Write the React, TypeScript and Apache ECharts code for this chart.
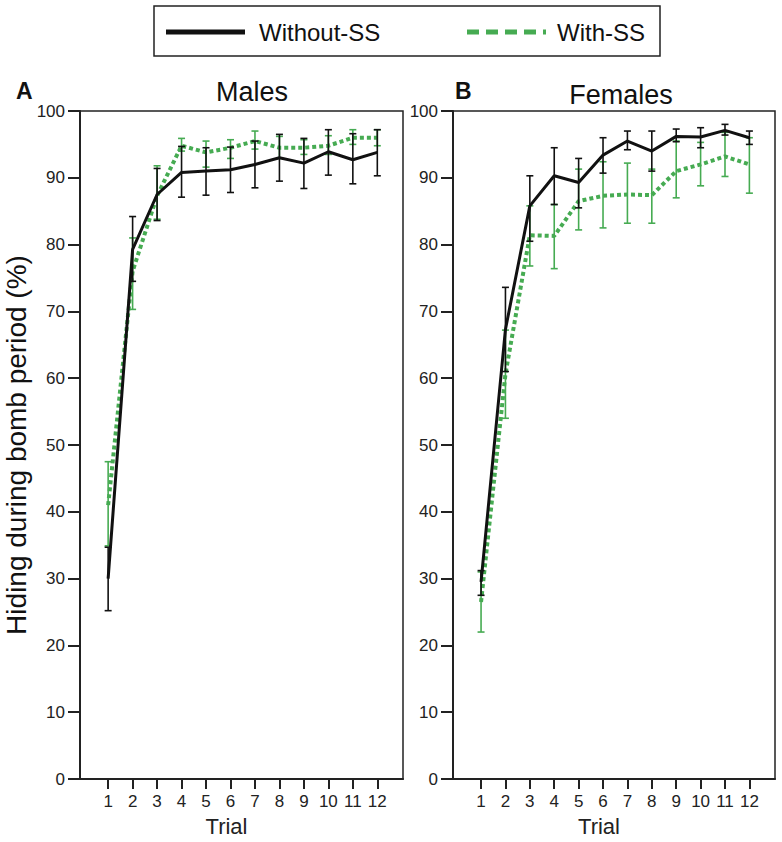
import React, { useEffect, useRef } from "react";
import * as echarts from "echarts";

const trials = [1, 2, 3, 4, 5, 6, 7, 8, 9, 10, 11, 12];
const tickValues = [1, 2, 3, 4, 5, 6, 7, 8, 9, 10, 11, 12];

// Males
const malesWithoutMean = [30.0, 79.3, 87.5, 90.8, 91.0, 91.2, 92.0, 93.0, 92.2, 93.9, 92.7, 93.8];
const malesWithoutLow = [25.2, 74.5, 83.6, 87.1, 87.4, 87.8, 88.5, 89.5, 88.4, 90.4, 89.1, 90.3];
const malesWithoutHigh = [34.7, 84.2, 91.4, 94.7, 94.5, 94.6, 95.5, 96.5, 95.9, 97.2, 96.6, 97.2];
const malesWithMean = [41.0, 76.0, 87.3, 94.8, 93.8, 94.5, 95.5, 94.5, 94.5, 94.8, 96.0, 96.0];
const malesWithLow = [34.9, 70.3, 83.8, 94.0, 91.6, 92.9, 94.3, 92.9, 93.5, 93.5, 95.0, 94.8];
const malesWithHigh = [47.5, 81.0, 91.8, 95.9, 95.5, 95.7, 97.0, 96.2, 95.7, 96.3, 97.2, 97.2];

// Females
const femalesWithoutMean = [29.5, 67.3, 85.8, 90.3, 89.3, 93.4, 95.5, 94.0, 96.2, 96.1, 97.1, 96.0];
const femalesWithoutLow = [27.5, 61.0, 80.5, 86.0, 85.5, 90.7, 94.2, 91.0, 95.4, 94.5, 96.4, 95.0];
const femalesWithoutHigh = [31.2, 73.6, 90.3, 94.5, 92.9, 96.0, 97.0, 97.0, 97.3, 97.5, 98.0, 97.0];
const femalesWithMean = [26.5, 60.6, 81.4, 81.3, 86.5, 87.3, 87.5, 87.4, 91.0, 92.0, 93.2, 92.0];
const femalesWithLow = [22.0, 54.0, 76.8, 76.4, 82.2, 82.5, 83.2, 83.2, 87.0, 88.8, 90.2, 87.7];
const femalesWithHigh = [31.0, 67.2, 85.8, 86.0, 91.3, 92.4, 92.2, 91.3, 95.5, 95.3, 96.8, 96.0];

const panelTitles = ["Males", "Females"];
const panelLetters = ["A", "B"];
const legendNames = ["Without-SS", "With-SS"];
const yAxisName = "Hiding during bomb period (%)";
const xAxisName = "Trial";

const BLACK = "#111111";
const GREEN = "#46ab52";
const FONT = "Liberation Sans, Arial, sans-serif";

function errSeries(idx: number, low: number[], high: number[], color: string, z: number) {
  return {
    type: "custom",
    xAxisIndex: idx,
    yAxisIndex: idx,
    z,
    silent: true,
    data: trials.map((t, i) => [t, low[i], high[i]]),
    encode: { x: 0, y: [1, 2] },
    renderItem: (params: any, api: any) => {
      const x = api.value(0);
      const pLo = api.coord([x, api.value(1)]);
      const pHi = api.coord([x, api.value(2)]);
      const w = 3.5;
      const st = { stroke: color, lineWidth: 1.6 };
      return {
        type: "group",
        children: [
          { type: "line", shape: { x1: pLo[0], y1: pLo[1], x2: pHi[0], y2: pHi[1] }, style: st },
          { type: "line", shape: { x1: pHi[0] - w, y1: pHi[1], x2: pHi[0] + w, y2: pHi[1] }, style: st },
          { type: "line", shape: { x1: pLo[0] - w, y1: pLo[1], x2: pLo[0] + w, y2: pLo[1] }, style: st },
        ],
      };
    },
  };
}

function lineSeries(idx: number, name: string, mean: number[], color: string, dotted: boolean, z: number) {
  return {
    type: "line",
    name,
    xAxisIndex: idx,
    yAxisIndex: idx,
    z,
    symbol: "none",
    data: trials.map((t, i) => [t, mean[i]]),
    lineStyle: dotted
      ? { color, width: 4, type: [4, 3], cap: "butt" }
      : { color, width: 3 },
  };
}

export default function App() {
  const ref = useRef<HTMLDivElement>(null);
  useEffect(() => {
    if (!ref.current) return;
    const chart = echarts.init(ref.current, null, { renderer: "svg" });
    const grids = [
      { left: 80, top: 111, width: 323, height: 668 },
      { left: 453, top: 111, width: 322, height: 668 },
    ];
    const xAxes = grids.map((_, i) => ({
      type: "value",
      gridIndex: i,
      min: -0.15,
      max: 13.05,
      name: xAxisName,
      nameLocation: "middle",
      nameGap: 36,
      nameTextStyle: { fontSize: 22, color: "#222", fontFamily: FONT, padding: [0, 30, 0, 0] },
      axisLine: { show: true, onZero: false, lineStyle: { color: "#222", width: 2 } },
      axisTick: { show: true, customValues: tickValues, length: 10, lineStyle: { color: "#222", width: 2 } },
      axisLabel: { customValues: tickValues, fontSize: 17, color: "#222", margin: 14, fontFamily: FONT },
      splitLine: { show: false },
    }));
    const yAxes = grids.map((_, i) => ({
      type: "value",
      gridIndex: i,
      min: 0,
      max: 100,
      interval: 10,
      name: i === 0 ? yAxisName : "",
      nameLocation: "middle",
      nameGap: 50,
      nameTextStyle: { fontSize: 28, color: "#111", fontFamily: FONT },
      axisLine: { show: true, onZero: false, lineStyle: { color: "#222", width: 2 } },
      axisTick: { show: true, length: 12, lineStyle: { color: "#222", width: 2 } },
      axisLabel: { fontSize: 17, color: "#222", margin: 15, fontFamily: FONT },
      splitLine: { show: false },
    }));

    const graphics: any[] = [
      { type: "rect", shape: { x: 154, y: 6, width: 506, height: 50 }, style: { fill: "#fff", stroke: "#222", lineWidth: 1.5 } },
      { type: "line", shape: { x1: 166, y1: 32, x2: 245, y2: 32 }, style: { stroke: BLACK, lineWidth: 5 } },
      { type: "text", x: 259, y: 32, style: { text: legendNames[0], fontSize: 24, fill: "#111", fontFamily: FONT, textVerticalAlign: "middle" } },
      { type: "line", shape: { x1: 467, y1: 32, x2: 546, y2: 32 }, style: { stroke: GREEN, lineWidth: 5, lineDash: [12, 7] } },
      { type: "text", x: 557, y: 32, style: { text: legendNames[1], fontSize: 24, fill: "#111", fontFamily: FONT, textVerticalAlign: "middle" } },
      { type: "text", x: 16, y: 91, style: { text: panelLetters[0], fontSize: 23, fontWeight: "bold", fill: "#111", fontFamily: FONT, textVerticalAlign: "middle" } },
      { type: "text", x: 455, y: 91, style: { text: panelLetters[1], fontSize: 23, fontWeight: "bold", fill: "#111", fontFamily: FONT, textVerticalAlign: "middle" } },
      { type: "text", x: 252, y: 92, style: { text: panelTitles[0], fontSize: 27, fill: "#111", fontFamily: FONT, textAlign: "center", textVerticalAlign: "middle" } },
      { type: "text", x: 621, y: 95, style: { text: panelTitles[1], fontSize: 27, fill: "#111", fontFamily: FONT, textAlign: "center", textVerticalAlign: "middle" } },
    ];

    chart.setOption({
      animation: false,
      backgroundColor: "#fff",
      grid: grids.map((g) => ({ ...g, show: true, borderColor: "#222", borderWidth: 1.5, backgroundColor: "transparent" })),
      xAxis: xAxes,
      yAxis: yAxes,
      graphic: graphics,
      series: [
        errSeries(0, malesWithLow, malesWithHigh, GREEN, 2),
        lineSeries(0, legendNames[1], malesWithMean, GREEN, true, 3),
        errSeries(0, malesWithoutLow, malesWithoutHigh, BLACK, 4),
        lineSeries(0, legendNames[0], malesWithoutMean, BLACK, false, 5),
        errSeries(1, femalesWithLow, femalesWithHigh, GREEN, 2),
        lineSeries(1, legendNames[1], femalesWithMean, GREEN, true, 3),
        errSeries(1, femalesWithoutLow, femalesWithoutHigh, BLACK, 4),
        lineSeries(1, legendNames[0], femalesWithoutMean, BLACK, false, 5),
      ],
    });
    return () => chart.dispose();
  }, []);
  return (
    <div
      ref={ref}
      style={{ position: "fixed", left: 0, top: 0, width: 782, height: 842, background: "#fff" }}
    />
  );
}
